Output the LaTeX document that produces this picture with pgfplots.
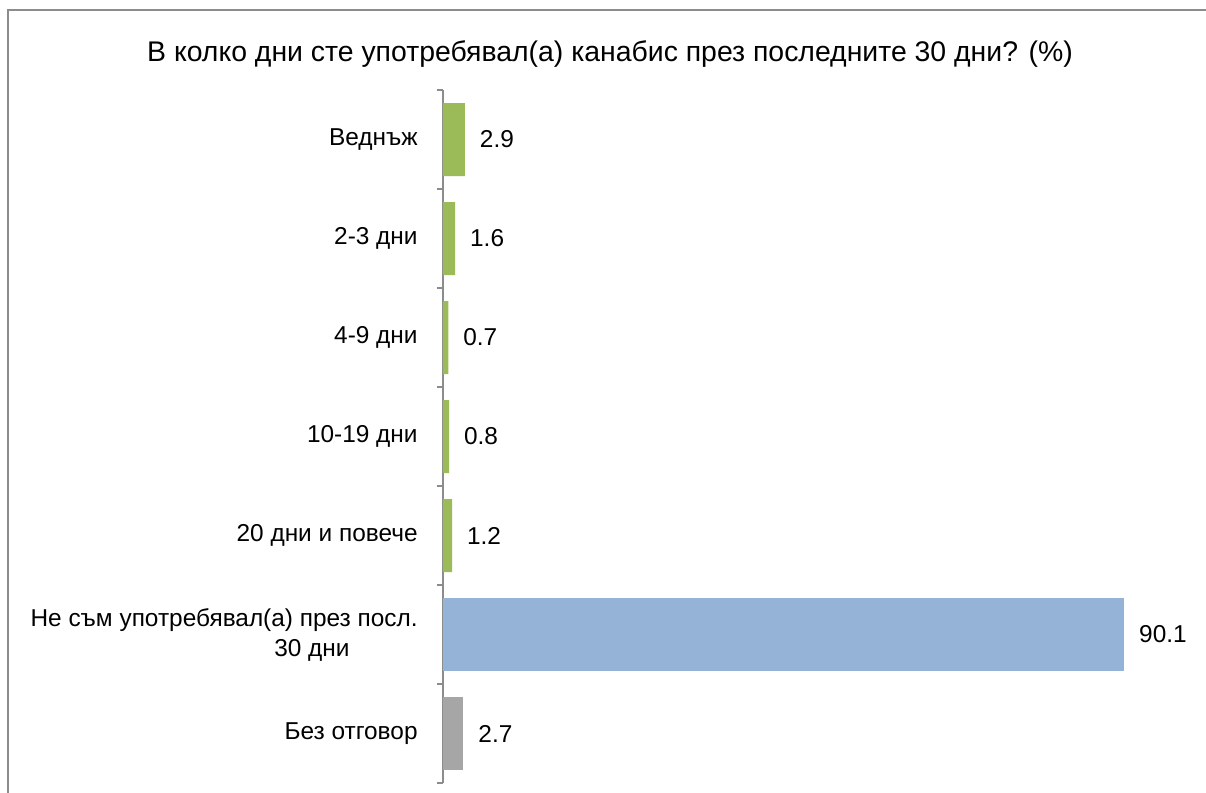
\documentclass[border=0pt]{standalone}
\usepackage{fontspec}
\setmainfont{Liberation Sans}
\usepackage{pgfplots}
\pgfplotsset{compat=1.18}
\definecolor{zelen}{HTML}{9BBB59}
\definecolor{sin}{HTML}{95B3D7}
\definecolor{siv}{HTML}{A6A6A6}
\definecolor{ramka}{HTML}{8C8C8C}
\begin{document}
\begin{tikzpicture}
\path[use as bounding box] (0,0) rectangle (603pt,396.5pt);
\draw[ramka,line width=1pt] (4pt,0) -- (4pt,391.5pt) -- (603pt,391.5pt);
\node[font=\fontsize{14.2pt}{16pt}\selectfont] at (305pt,369.5pt)
 {В колко дни сте употребявал(а) канабис през последните 30 дни? (\%)};
\begin{axis}[at={(221.5pt,5pt)},anchor=south west,scale only axis,
 width=378pt,height=346.5pt,xmin=0,xmax=100,ymin=-0.5,ymax=6.5,y dir=reverse,
 axis x line=none,axis y line*=left,axis line style={ramka,line width=0.8pt},
 xbar,bar width=36.5pt,bar shift=0pt,
 ytick={0,...,6},major tick length=0pt,
 minor ytick={-0.5,0.5,...,6.5},minor tick length=3pt,tick align=outside,
 minor tick style={ramka,line width=0.8pt},
 yticklabels={Веднъж,2-3 дни,4-9 дни,10-19 дни,20 дни и повече,
  {Не съм употребявал(а) през посл.\\30 дни\rule{34pt}{0pt}},Без отговор},
 yticklabel style={align=right,inner sep=0pt,xshift=-12.5pt,font=\fontsize{12.2pt}{15pt}\selectfont},
 nodes near coords,
 nodes near coords style={anchor=west,xshift=4pt,font=\fontsize{12.2pt}{14pt}\selectfont,
  /pgf/number format/.cd,fixed,fixed zerofill,precision=1,assume math mode=true},
 clip=false]
\addplot[draw=none,fill=zelen] coordinates {(2.9,0) (1.6,1) (0.7,2) (0.8,3) (1.2,4)};
\addplot[draw=none,fill=sin] coordinates {(90.1,5)};
\addplot[draw=none,fill=siv] coordinates {(2.7,6)};
\end{axis}
\end{tikzpicture}
\end{document}
